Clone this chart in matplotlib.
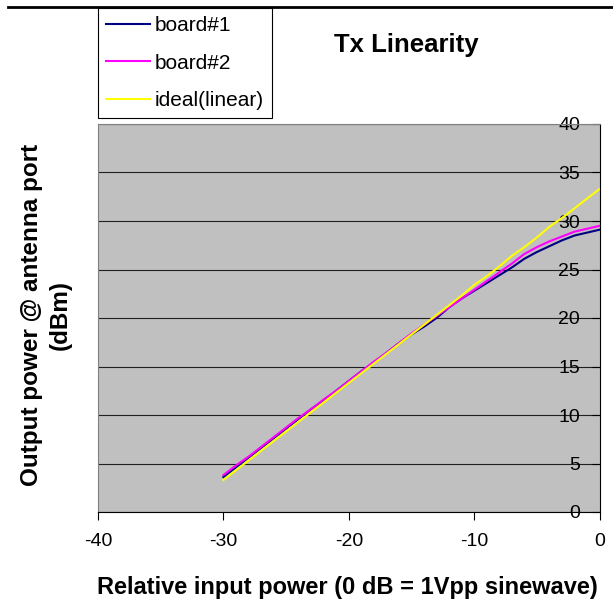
import matplotlib
matplotlib.use('Agg')
import matplotlib.pyplot as plt
from matplotlib.lines import Line2D

plt.rcParams['font.family'] = ['Liberation Sans', 'DejaVu Sans']
plt.rcParams['axes.unicode_minus'] = False

input_db = [-30, -29, -28, -27, -26, -25, -24, -23, -22, -21, -20,
            -19, -18, -17, -16, -15, -14, -13, -12, -11, -10,
            -9, -8, -7, -6, -5, -4, -3, -2, -1, 0]
board1 = [3.6, 4.6, 5.6, 6.6, 7.6, 8.6, 9.6, 10.6, 11.5, 12.5, 13.5,
          14.5, 15.4, 16.4, 17.4, 18.3, 19.1, 20.0, 21.1, 22.0, 22.8,
          23.6, 24.4, 25.2, 26.1, 26.8, 27.4, 28.0, 28.5, 28.8, 29.1]
board2 = [3.8, 4.8, 5.7, 6.7, 7.7, 8.7, 9.7, 10.6, 11.6, 12.5, 13.5,
          14.5, 15.5, 16.4, 17.4, 18.4, 19.3, 20.2, 21.1, 22.0, 22.9,
          23.8, 24.7, 25.6, 26.6, 27.3, 27.9, 28.4, 28.9, 29.2, 29.5]
ideal = [3.3, 4.3, 5.3, 6.3, 7.3, 8.3, 9.3, 10.3, 11.3, 12.3, 13.3,
         14.3, 15.3, 16.3, 17.3, 18.3, 19.3, 20.3, 21.3, 22.3, 23.4,
         24.3, 25.3, 26.4, 27.3, 28.3, 29.4, 30.3, 31.3, 32.3, 33.3]

W, H = 613, 600
fig = plt.figure(figsize=(W / 100, H / 100), dpi=100)
ax = fig.add_axes([98 / W, 1 - 512 / H, (599.5 - 98) / W, (512 - 124) / H])
ax.set_facecolor('#C0C0C0')

ax.plot(input_db, board1, color='#000080', lw=1.5, label='board#1')
ax.plot(input_db, board2, color='#FF00FF', lw=1.5, label='board#2')
ax.plot(input_db, ideal, color='#FFFF00', lw=1.5, label='ideal(linear)')

ax.set_xlim(-40, 0)
ax.set_ylim(0, 40)
ax.set_xticks([-40, -30, -20, -10, 0])
ax.set_yticks([0, 5, 10, 15, 20, 25, 30, 35, 40])
ax.grid(axis='y', color='#202020', lw=0.8)
ax.set_axisbelow('line')

ax.spines['left'].set_color('#808080')
ax.spines['top'].set_color('#808080')
ax.spines['right'].set_color('black')
ax.spines['bottom'].set_color('black')

ax.tick_params(axis='x', direction='out', length=6, width=0.8, colors='black',
               labelsize=14, pad=9)
ax.yaxis.tick_right()
ax.tick_params(axis='y', direction='in', length=6, width=0.8, labelsize=14,
               pad=-14)
plt.setp(ax.get_yticklabels(), ha='right')

fig.text(406 / W, 1 - 45 / H, 'Tx Linearity', ha='center', va='center',
         fontsize=18.5, fontweight='bold')
fig.text(347 / W, 6 / H, 'Relative input power (0 dB = 1Vpp sinewave)',
         ha='center', va='baseline', fontsize=17, fontweight='bold')
fig.text(46 / W, 1 - 315 / H, 'Output power @ antenna port\n(dBm)',
         ha='center', va='center', rotation=90, ma='center',
         fontsize=17.5, fontweight='bold', linespacing=1.3)

leg = fig.legend(loc='upper left', bbox_to_anchor=(98 / W, 1 - 8 / H),
                 fontsize=15, frameon=True, fancybox=False, edgecolor='black',
                 framealpha=1, handlelength=2.1, labelspacing=0.9,
                 borderpad=0.38, handletextpad=0.25, borderaxespad=0)
leg.get_frame().set_linewidth(0.8)

fig.add_artist(Line2D([8 / W, 1], [1 - 7 / H, 1 - 7 / H], color='black', lw=2,
                      transform=fig.transFigure))

fig.savefig('out.png', dpi=100)
